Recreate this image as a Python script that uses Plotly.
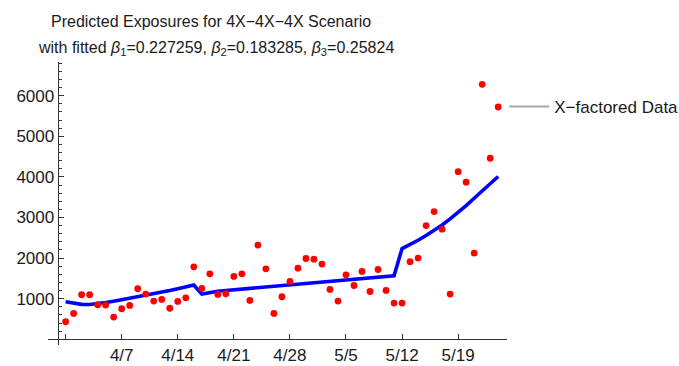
import datetime as dt
import plotly.graph_objects as go

# Daily observations, 3/31 through 5/24
start = dt.date(2020, 3, 31)
exposures = [
    433, 637, 1097, 1097, 851, 844, 548, 753, 834, 1245,
    1114, 942, 982, 765, 932, 1023, 1786, 1252, 1614, 1105,
    1122, 1548, 1614, 957, 2320, 1737, 637, 1048, 1425, 1753,
    1990, 1975, 1852, 1228, 942, 1589, 1326, 1671, 1178, 1720,
    1203, 893, 893, 1913, 2000, 2802, 3146, 2713, 1114, 4130,
    3870, 2123, 6280, 4460, 5722,
]
# Model prediction for the same days (three growth phases)
fitted = [
    925, 882, 860, 858, 875, 905, 940, 975, 1010, 1045,
    1082, 1120, 1160, 1200, 1245, 1290, 1338, 1114, 1160, 1183,
    1203, 1220, 1237, 1254, 1271, 1289, 1306, 1323, 1340, 1358,
    1375, 1392, 1409, 1426, 1444, 1461, 1478, 1495, 1513, 1530,
    1547, 1565, 2236, 2330, 2440, 2555, 2680, 2815, 2965, 3125,
    3295, 3475, 3655, 3835, 4010,
]
dates = [start + dt.timedelta(days=i) for i in range(len(exposures))]

# Axis ticks
x_tick_dates = [dt.date(2020, 3, 31), dt.date(2020, 4, 7), dt.date(2020, 4, 14),
                dt.date(2020, 4, 21), dt.date(2020, 4, 28), dt.date(2020, 5, 5),
                dt.date(2020, 5, 12), dt.date(2020, 5, 19)]
x_tick_text = ["", "4/7", "4/14", "4/21", "4/28", "5/5", "5/12", "5/19"]
y_tick_vals = [1000, 2000, 3000, 4000, 5000, 6000]

title_line1 = "Predicted Exposures for 4X\u22124X\u22124X Scenario"
title_line2 = ("with fitted <i>\u03b2</i><sub>1</sub>=0.227259, "
               "<i>\u03b2</i><sub>2</sub>=0.183285, "
               "<i>\u03b2</i><sub>3</sub>=0.25824")
legend_name = "X\u2212factored Data"

# Axes cross at (3/30, 0)
origin_day = start - dt.timedelta(days=1)
x_lo_days, x_hi_days = -1.2, 56.1
y_lo, y_hi = -140, 6830
x_lo = dt.datetime.combine(origin_day, dt.time()) + dt.timedelta(days=x_lo_days)
x_hi = dt.datetime.combine(origin_day, dt.time()) + dt.timedelta(days=x_hi_days)
yaxis_pos = (0 - x_lo_days) / (x_hi_days - x_lo_days)
xaxis_pos = (0 - y_lo) / (y_hi - y_lo)

FONT = "Liberation Sans, Arial, sans-serif"
AX = "#333333"
TXT = "#1a1a1a"

fig = go.Figure()
fig.add_trace(go.Scatter(x=dates, y=fitted, mode="lines",
                         line=dict(color="#0000ff", width=3.6),
                         showlegend=False, hoverinfo="skip"))
fig.add_trace(go.Scatter(x=dates, y=exposures, mode="markers",
                         marker=dict(color="#ff0000", size=6.8),
                         showlegend=False))
fig.add_trace(go.Scatter(x=[None], y=[None], mode="lines",
                         line=dict(color="#a8a8a8", width=2),
                         name=legend_name, showlegend=True))

fig.update_layout(
    width=679, height=366,
    margin=dict(l=48, r=172, t=62, b=21, autoexpand=False),
    paper_bgcolor="white", plot_bgcolor="white",
    font=dict(family=FONT, size=17, color=TXT),
    xaxis=dict(type="date", range=[x_lo, x_hi], anchor="free", position=xaxis_pos,
               showline=True, linecolor=AX, linewidth=1,
               tickmode="array", tickvals=x_tick_dates, ticktext=x_tick_text,
               ticks="inside", ticklen=5, tickcolor=AX, tickwidth=1,
               tickfont=dict(size=17, color=TXT),
               showgrid=False, zeroline=False, automargin=False),
    yaxis=dict(range=[y_lo, y_hi], anchor="free", position=yaxis_pos,
               showline=True, linecolor=AX, linewidth=1,
               tickmode="array", tickvals=y_tick_vals,
               ticks="inside", ticklen=5, tickcolor=AX, tickwidth=1,
               tickfont=dict(size=17, color=TXT),
               minor=dict(tickmode="linear", tick0=0, dtick=200, ticks="inside",
                          ticklen=3, tickcolor=AX, tickwidth=1),
               showgrid=False, zeroline=False, automargin=False),
    legend=dict(x=0.994, y=0.841, xanchor="left", yanchor="middle",
                bgcolor="rgba(0,0,0,0)", font=dict(size=17, color=TXT),
                itemwidth=40),
    annotations=[
        dict(text=title_line1, xref="paper", yref="paper", x=0.355, y=1 + (62 - 21.5) / 283,
             xanchor="center", yanchor="middle", showarrow=False,
             font=dict(size=16, color=TXT)),
        dict(text=title_line2, xref="paper", yref="paper", x=0.366, y=1 + (62 - 49) / 283,
             xanchor="center", yanchor="middle", showarrow=False,
             font=dict(size=16, color=TXT)),
    ],
)

fig.write_html("out.html")
